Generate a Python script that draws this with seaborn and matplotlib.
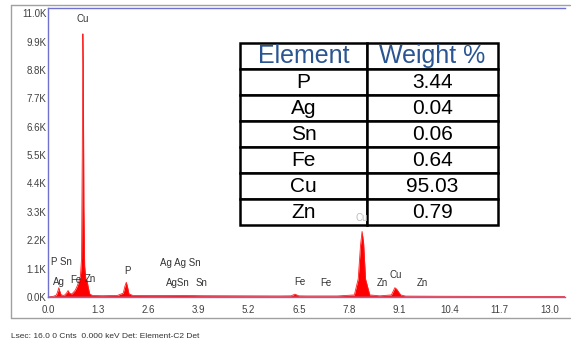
import seaborn as sns
import matplotlib.pyplot as plt
from matplotlib.lines import Line2D

# EDS spectrum (energy in keV, counts)
energy_kev = [0.00, 0.15, 0.22, 0.26, 0.28, 0.30, 0.34, 0.42, 0.48, 0.52, 0.56, 0.62,
              0.70, 0.75, 0.80, 0.84, 0.87, 0.89, 0.905, 0.915, 0.93, 0.95, 0.98, 1.01,
              1.04, 1.08, 1.15, 1.40, 1.80, 1.95, 2.00, 2.03, 2.06, 2.10, 2.20, 2.60,
              3.00, 3.50, 4.00, 5.00, 6.00, 6.30, 6.40, 6.50, 6.70, 7.50, 7.94, 8.04,
              8.10, 8.14, 8.18, 8.23, 8.34, 8.60, 8.90, 8.99, 9.04, 9.14, 9.27, 10.0,
              11.0, 12.0, 13.4]
counts = [0, 30, 80, 250, 360, 250, 80, 60, 150, 250, 140, 120,
          250, 400, 600, 800, 1500, 6000, 10200, 9000, 3500, 1200, 700, 650,
          400, 120, 60, 50, 60, 150, 450, 570, 400, 120, 60, 55,
          55, 60, 50, 45, 40, 45, 110, 45, 40, 40, 80, 700,
          2000, 2540, 2100, 700, 80, 45, 80, 360, 300, 80, 35, 30,
          25, 20, 15]

# peak labels: text, energy, counts
peak_labels = ["Cu", "P Sn", "Ag", "Fe", "Zn", "P", "Ag Ag Sn", "AgSn", "Sn",
               "Fe", "Fe", "Zn", "Cu", "Zn"]
label_kev = [0.91, 0.34, 0.28, 0.73, 1.09, 2.05, 3.42, 3.37, 3.99,
             6.53, 7.20, 8.67, 9.02, 9.70]
label_cnt = [10770, 1360, 600, 660, 700, 1020, 1320, 560, 540,
             580, 540, 540, 850, 540]

# composition table
elements = ["P", "Ag", "Sn", "Fe", "Cu", "Zn"]
weight_pct = ["3.44", "0.04", "0.06", "0.64", "95.03", "0.79"]

x_ticks = [0.0, 1.3, 2.6, 3.9, 5.2, 6.5, 7.8, 9.1, 10.4, 11.7, 13.0]
y_ticks = [0, 1100, 2200, 3300, 4400, 5500, 6600, 7700, 8800, 9900, 11000]

sns.set_style("white")
plt.rcParams["font.family"] = ["Liberation Sans", "DejaVu Sans"]

fig = plt.figure(figsize=(5.79, 3.47), dpi=100)
ax = fig.add_axes([48 / 579, 50 / 347, 517 / 579, 289 / 347])

ax.fill_between(energy_kev, counts, 0, color="#ff0000", linewidth=0)
sns.lineplot(x=energy_kev, y=counts, ax=ax, color="#ff2020", linewidth=0.6,
             sort=False, estimator=None)
ax.axhline(30, color="#ff4040", linewidth=0.6, alpha=0.5)

ax.set_xlim(0, 13.4)
ax.set_ylim(0, 11200)
ax.set_xticks(x_ticks)
ax.set_xticklabels([f"{v:.1f}" for v in x_ticks])
ax.set_yticks(y_ticks)
ax.set_yticklabels([f"{v / 1000:.1f}K" for v in y_ticks])
for lab in ax.get_xticklabels() + ax.get_yticklabels():
    lab.set_fontsize(7)
    lab.set_color("#404040")
ax.tick_params(axis="x", length=2, width=0.6, color="#8080d8", pad=4)
ax.tick_params(axis="y", length=0, pad=1)
ax.set_xlabel("")
ax.set_ylabel("")

for side in ["left", "bottom", "top"]:
    ax.spines[side].set_color("#7070d0")
    ax.spines[side].set_linewidth(1.0)
ax.spines["right"].set_visible(False)

for t, xk, yc in zip(peak_labels, label_kev, label_cnt):
    ax.text(xk, yc, t, ha="center", va="center", fontsize=7, color="#333333")

# table with element weights
cell_text = [[e, w] for e, w in zip(elements, weight_pct)]
tb = ax.table(cellText=cell_text, colLabels=["Element", "Weight %"],
              cellLoc="center", colWidths=[0.492, 0.508],
              bbox=[(240 - 48) / 517, (297 - 225) / 289, 258 / 517, 182 / 289])
tb.auto_set_font_size(False)
tb.set_zorder(10)
for (r, c), cell in tb.get_celld().items():
    cell.set_edgecolor("black")
    cell.set_linewidth(1.8)
    cell.set_facecolor("white")
    if r == 0:
        cell.get_text().set_fontsize(18)
        cell.get_text().set_color("#2a5592")
    else:
        cell.get_text().set_fontsize(15)
        cell.get_text().set_color("black")

# Cu K label peeking over the table bottom
ax.text(8.13, 3050, "Cu", ha="center", va="center", fontsize=7,
        color="#bbbbbb", zorder=11)

# outer grey frame
fx0, fx1 = 11 / 579, 570 / 579
fy0, fy1 = 1 - 318 / 347, 1 - 5 / 347
for xs, ys in [([fx0, fx1], [fy1, fy1]), ([fx0, fx0], [fy0, fy1]), ([fx0, fx1], [fy0, fy0])]:
    fig.add_artist(Line2D(xs, ys, color="#a0a0a0", linewidth=1.0,
                          transform=fig.transFigure))

fig.text(11 / 579, 1 - 336 / 347, "Lsec: 16.0 0 Cnts  0.000 keV Det: Element-C2 Det",
         ha="left", va="center", fontsize=6, color="#333333")

fig.savefig("out.png", dpi=100)
